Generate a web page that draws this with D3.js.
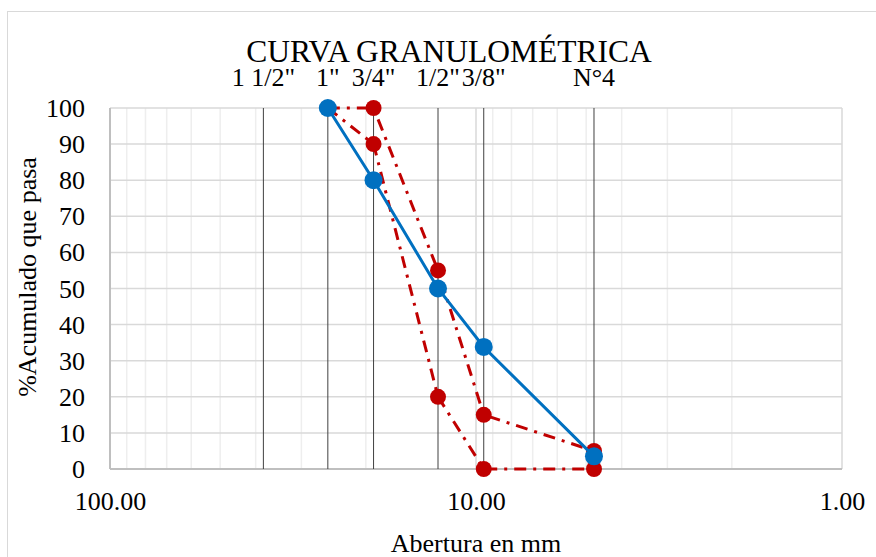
<!DOCTYPE html>
<html>
<head>
<meta charset="utf-8">
<title>Curva granulométrica</title>
<style type="text/css">
body { margin: 0; background: #fff; }
text { font-family: "Liberation Serif", "Times New Roman", serif; fill: #000; }
</style>
</head>
<body>
<script src="https://d3js.org/d3.v7.min.js"></script>
<script>

// sieve openings (mm) and their names
var sieveSizes = [38.1, 25.4, 19.05, 12.7, 9.525, 4.76];
var sieveNames = ['1 1/2"', '1"', '3/4"', '1/2"', '3/8"', "N°4"];

// % passing
var curveSizes = [25.4, 19.05, 12.7, 9.525, 4.76];
var muestra    = [100, 80, 50, 33.8, 3.5];
var limSup     = [100, 100, 55, 15, 5];
var limInf     = [100, 90, 20, 0, 0];

var yTicks = [0, 10, 20, 30, 40, 50, 60, 70, 80, 90, 100];
var xTicks = [100, 10, 1];

var margin = {top: 108, right: 34, bottom: 88, left: 110},
    width = 876 - margin.left - margin.right,
    height = 557 - margin.top - margin.bottom;

var svg = d3.select("body").append("svg")
    .attr("width", 876)
    .attr("height", 557);

// outer chart border
svg.append("rect")
    .attr("x", 7.5).attr("y", 11.5)
    .attr("width", 880).attr("height", 560)
    .attr("fill", "none")
    .attr("stroke", "#d9d9d9")
    .attr("stroke-width", 1);

var g = svg.append("g")
    .attr("transform", "translate(" + margin.left + "," + margin.top + ")");

var x = d3.scaleLog().domain([100, 1]).range([0, width]);
var y = d3.scaleLinear().domain([0, 100]).range([height, 0]);

// minor vertical log grid
var minor = [];
[10, 1].forEach(function(base) {
  for (var k = 2; k <= 9; k++) minor.push(base * k);
});
g.selectAll(".vgrid")
    .data(minor)
  .enter().append("line")
    .attr("x1", function(d) { return x(d); })
    .attr("x2", function(d) { return x(d); })
    .attr("y1", 0).attr("y2", height)
    .attr("stroke", "#eeeeee")
    .attr("stroke-width", 1.5);

// horizontal grid
g.selectAll(".hgrid")
    .data(yTicks)
  .enter().append("line")
    .attr("x1", 0).attr("x2", width)
    .attr("y1", function(d) { return y(d); })
    .attr("y2", function(d) { return y(d); })
    .attr("stroke", "#d9d9d9")
    .attr("stroke-width", 1.5);

// major vertical (decades)
g.selectAll(".mgrid")
    .data(xTicks)
  .enter().append("line")
    .attr("x1", function(d) { return x(d); })
    .attr("x2", function(d) { return x(d); })
    .attr("y1", 0).attr("y2", height)
    .attr("stroke", "#d9d9d9")
    .attr("stroke-width", 1.5);

// axis frame left/bottom
g.append("line").attr("x1", 0).attr("x2", 0).attr("y1", 0).attr("y2", height)
    .attr("stroke", "#bfbfbf").attr("stroke-width", 2);
g.append("line").attr("x1", 0).attr("x2", width).attr("y1", height).attr("y2", height)
    .attr("stroke", "#bfbfbf").attr("stroke-width", 2);

// sieve lines
g.selectAll(".sieve")
    .data(sieveSizes)
  .enter().append("line")
    .attr("x1", function(d) { return x(d); })
    .attr("x2", function(d) { return x(d); })
    .attr("y1", 0).attr("y2", height)
    .attr("stroke", "#404040")
    .attr("stroke-width", 1);

g.selectAll(".sieveLabel")
    .data(sieveSizes)
  .enter().append("text")
    .attr("x", function(d) { return x(d); })
    .attr("y", -22)
    .attr("text-anchor", "middle")
    .style("font-size", "26px")
    .text(function(d, i) { return sieveNames[i]; });

// y axis
var yAxis = g.append("g")
    .call(d3.axisLeft(y).tickValues(yTicks).tickSize(0).tickPadding(25));
yAxis.select(".domain").remove();
yAxis.selectAll("text")
    .style("font-size", "26px")
    .style("font-family", "Liberation Serif, serif")
    .attr("dy", "0.33em");

// x axis
var xAxis = g.append("g")
    .attr("transform", "translate(0," + height + ")")
    .call(d3.axisBottom(x).tickValues(xTicks).tickSize(0).tickPadding(0)
      .tickFormat(d3.format(".2f")));
xAxis.select(".domain").remove();
xAxis.selectAll("text")
    .style("font-size", "26px")
    .style("font-family", "Liberation Serif, serif")
    .attr("dy", null)
    .attr("y", 41);

// title
svg.append("text")
    .attr("x", 449).attr("y", 62)
    .attr("text-anchor", "middle")
    .style("font-size", "31.5px")
    .text("CURVA GRANULOMÉTRICA");

// axis titles
svg.append("text")
    .attr("x", 476).attr("y", 552)
    .attr("text-anchor", "middle")
    .style("font-size", "26px")
    .text("Abertura en mm");

svg.append("text")
    .attr("transform", "translate(36,277) rotate(-90)")
    .attr("text-anchor", "middle")
    .style("font-size", "26px")
    .text("%Acumulado que pasa");

var line = d3.line()
    .x(function(d) { return x(d[0]); })
    .y(function(d) { return y(d[1]); });

function series(vals, color, dash, width, r) {
  var pts = curveSizes.map(function(s, i) { return [s, vals[i]]; });
  g.append("path")
      .datum(pts)
      .attr("d", line)
      .attr("fill", "none")
      .attr("stroke", color)
      .attr("stroke-width", width)
      .attr("stroke-dasharray", dash);
  g.selectAll(null)
      .data(pts)
    .enter().append("circle")
      .attr("cx", function(d) { return x(d[0]); })
      .attr("cy", function(d) { return y(d[1]); })
      .attr("r", r)
      .attr("fill", color);
}

series(limInf, "#c00000", "12,7,3,7", 3, 8);
series(limSup, "#c00000", "12,7,3,7", 3, 8);
series(muestra, "#0070c0", null, 3, 9);

</script>
</body>
</html>
